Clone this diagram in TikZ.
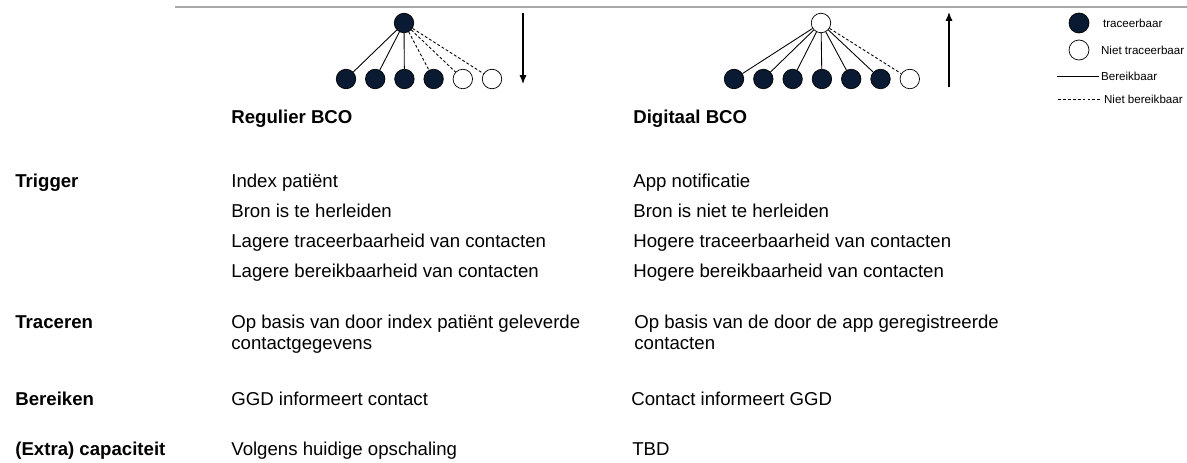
\documentclass[tikz,border=0pt]{standalone}
\usepackage{fontspec}
\setmainfont{Liberation Sans}
\usetikzlibrary{arrows.meta}
\definecolor{tracefill}{RGB}{10,26,50}
\definecolor{rulegray}{RGB}{168,168,168}

\begin{document}
\begin{tikzpicture}[
    x=0.02cm, y=-0.02cm,
    >={Latex[length=5pt,width=4pt]},
    every node/.style={inner sep=0pt, font=\fontsize{10.6}{11.9}\selectfont},
    row head/.style={anchor=base west, font=\fontsize{10.6}{11.9}\selectfont\bfseries},
    col text/.style={anchor=base west, align=left},
    traced/.style={circle, draw, fill=tracefill, minimum size=0.39cm},
    untraced/.style={circle, draw, fill=white, minimum size=0.39cm},
    reach link/.style={line width=0.5pt},
    noreach link/.style={line width=0.5pt, dash pattern=on 1.6pt off 1.2pt},
    legend text/.style={anchor=west, inner sep=1pt, font=\fontsize{6.6}{8}\selectfont}
    ]
    \useasboundingbox (0,0) rectangle (1187,463);
    % top rule
    \draw [rulegray, line width=0.8pt] (175,7) -- (1187,7);
    % regulier tree
    \node [traced] (lroot) at (404,23) {};
    \foreach \i/\x in {1/346,2/375.2,3/404.4,4/433.6} {
        \node [traced] (l\i) at (\x,79) {};
    }
    \foreach \i/\x in {5/462.8,6/492} {
        \node [untraced] (l\i) at (\x,79) {};
    }
    \foreach \i in {1,2,3} \draw [reach link] (lroot) -- (l\i);
    \foreach \i in {4,5,6} \draw [noreach link] (lroot) -- (l\i);
    \coordinate (ltop) at (523,13);
    \coordinate (lbot) at (523,84);
    \draw [->, line width=0.7pt] (ltop) -- (lbot);
    % digitaal tree
    \node [untraced] (rroot) at (821,23) {};
    \foreach \i/\x in {1/734,2/763.3,3/792.6,4/821.9,5/851.2,6/880.5} {
        \node [traced] (r\i) at (\x,79) {};
        \draw [reach link] (rroot) -- (r\i);
    }
    \node [untraced] (r7) at (909.8,79) {};
    \draw [noreach link] (rroot) -- (r7);
    \coordinate (rbot) at (949,87);
    \coordinate (rtop) at (949,12);
    \draw [->, line width=0.7pt] (rbot) -- (rtop);
    % legend
    \node [traced, minimum size=0.4cm] (lgfull) at (1079,23) {};
    \node [legend text] (lgt1) at (1101,23) {traceerbaar};
    \node [untraced, minimum size=0.4cm] (lgopen) at (1079,50) {};
    \node [legend text] (lgt2) at (1099,50) {Niet traceerbaar};
    \node [legend text] (lgt3) at (1099,76) {Bereikbaar};
    \coordinate (lgsolid) at (1057,76);
    \draw [reach link] (lgsolid) -- (lgt3.west);
    \node [legend text] (lgt4) at (1102,99) {Niet bereikbaar};
    \coordinate (lgdash) at (1058,99);
    \draw [noreach link] (lgdash) -- (lgt4.west);
    % column heads
    \node [row head] (hreg) at (231,123) {Regulier BCO};
    \node [row head] (hdig) at (633,123) {Digitaal BCO};
    % row heads
    \node [row head] (trig) at (15,187) {Trigger};
    \node [row head] (trac) at (15,328) {Traceren};
    \node [row head] (bere) at (15,405) {Bereiken};
    \node [row head] (capa) at (15,455) {(Extra) capaciteit};
    % regulier column
    \node [col text] (reg1) at (231,187) {Index patiënt};
    \node [col text] (reg2) at (231,217) {Bron is te herleiden};
    \node [col text] (reg3) at (231,247) {Lagere traceerbaarheid van contacten};
    \node [col text] (reg4) at (231,277) {Lagere bereikbaarheid van contacten};
    \node [col text] (reg5) at (231,349) {Op basis van door index patiënt geleverde\\contactgegevens};
    \node [col text] (reg6) at (231,405) {GGD informeert contact};
    \node [col text] (reg7) at (231,455) {Volgens huidige opschaling};
    % digitaal column
    \node [col text] (dig1) at (633,187) {App notificatie};
    \node [col text] (dig2) at (633,217) {Bron is niet te herleiden};
    \node [col text] (dig3) at (633,247) {Hogere traceerbaarheid van contacten};
    \node [col text] (dig4) at (633,277) {Hogere bereikbaarheid van contacten};
    \node [col text] (dig5) at (634,349) {Op basis van de door de app geregistreerde\\contacten};
    \node [col text] (dig6) at (631,405) {Contact informeert GGD};
    \node [col text] (dig7) at (632,455) {TBD};
\end{tikzpicture}
\end{document}
